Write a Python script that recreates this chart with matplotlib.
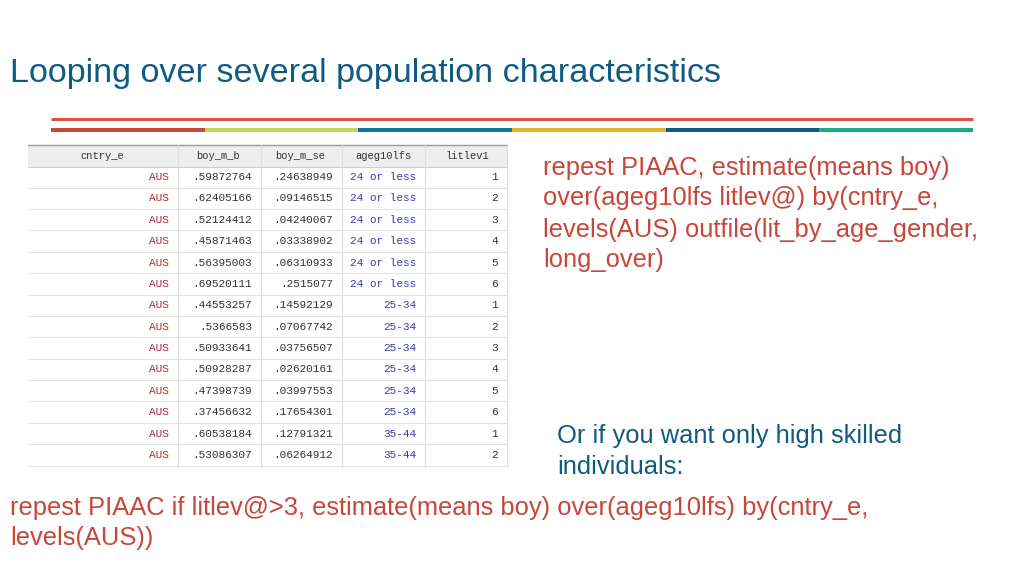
import matplotlib.pyplot as plt
from matplotlib.patches import Rectangle

# Slide content
title = "Looping over several population characteristics"
cmd_text = ["repest PIAAC, estimate(means boy)",
            "over(ageg10lfs litlev@) by(cntry_e,",
            "levels(AUS) outfile(lit_by_age_gender,",
            "long_over)"]
note_text = ["Or if you want only high skilled", "individuals:"]
bottom_text = ["repest PIAAC if litlev@>3, estimate(means boy) over(ageg10lfs) by(cntry_e,",
               "levels(AUS))"]

# Table data (Stata browser)
headers = ["cntry_e", "boy_m_b", "boy_m_se", "ageg10lfs", "litlev1"]
cntry = ["AUS"] * 14
boy_m_b = [".59872764", ".62405166", ".52124412", ".45871463", ".56395003", ".69520111",
           ".44553257", ".5366583", ".50933641", ".50928287", ".47398739", ".37456632",
           ".60538184", ".53086307"]
boy_m_se = [".24638949", ".09146515", ".04240067", ".03338902", ".06310933", ".2515077",
            ".14592129", ".07067742", ".03756507", ".02620161", ".03997553", ".17654301",
            ".12791321", ".06264912"]
ageg = ["24 or less"] * 6 + ["25-34"] * 6 + ["35-44"] * 2
litlev = [1, 2, 3, 4, 5, 6, 1, 2, 3, 4, 5, 6, 1, 2]

stripe_colors = ["#c9473a", "#c5d65a", "#0e78a0", "#e0b72f", "#0d5a83", "#1aab85"]

fig = plt.figure(figsize=(10.24, 5.76), dpi=100)
ax = fig.add_axes([0, 0, 1, 1])
ax.set_xlim(0, 1024)
ax.set_ylim(576, 0)
ax.axis("off")

sans = "Liberation Sans"
mono = "Liberation Mono"
blue = "#0f5b82"
red = "#c8463a"

ax.text(10, 73.5, title, fontsize=24.6, color=blue, family=sans, va="center", ha="left")

# decorative lines
ax.plot([51, 973], [118.5, 118.5], color="#d9534a", lw=2.2, solid_capstyle="butt")
seg = (973 - 51) / len(stripe_colors)
for i, c in enumerate(stripe_colors):
    ax.add_patch(Rectangle((51 + i * seg, 128), seg, 4, color=c, lw=0))

# table
col_edges = [28, 178, 261, 342, 425, 507]
head_top, head_bot = 145, 166.5
row_h = 21.38
row0 = 177
n = len(cntry)
tab_bot = row0 + (n - 1) * row_h + row_h / 2 + 1

ax.add_patch(Rectangle((col_edges[0], head_top), col_edges[-1] - col_edges[0],
                       head_bot - head_top, color="#eeeeee", lw=0))
ax.plot([col_edges[0], col_edges[-1]], [head_top, head_top], color="#9a9a9a", lw=1)
ax.plot([col_edges[0], col_edges[-1]], [head_bot, head_bot], color="#cfcfcf", lw=0.8)
for x in col_edges[1:]:
    ax.plot([x, x], [head_top, tab_bot], color="#dddddd", lw=0.8)
for i in range(n):
    y = row0 + i * row_h + row_h / 2
    ax.plot([col_edges[0], col_edges[-1]], [y, y], color="#e3e3e3", lw=0.8)

head_cx = [102, 218, 300, 383, 467]
for h, cx in zip(headers, head_cx):
    ax.text(cx, 156, h, fontsize=7.5, family=mono, color="#333333", ha="center", va="center")

right_x = [169, 252, 333, 416, 498]
for i in range(n):
    y = row0 + i * row_h
    ax.text(right_x[0], y, cntry[i], fontsize=8, family=mono, color="#b52a2a", ha="right", va="center")
    ax.text(right_x[1], y, boy_m_b[i], fontsize=8, family=mono, color="#333333", ha="right", va="center")
    ax.text(right_x[2], y, boy_m_se[i], fontsize=8, family=mono, color="#333333", ha="right", va="center")
    ax.text(right_x[3], y, ageg[i], fontsize=8, family=mono, color="#3a3ab0", ha="right", va="center")
    ax.text(right_x[4], y, str(litlev[i]), fontsize=8, family=mono, color="#333333", ha="right", va="center")

# right side command text
for i, line in enumerate(cmd_text):
    ax.text(543, 167.5 + i * 31, line, fontsize=18.4, family=sans, color=red, ha="left", va="center")

for i, line in enumerate(note_text):
    ax.text(557, 436.5 + i * 30, line, fontsize=18.4, family=sans, color=blue, ha="left", va="center")

for i, line in enumerate(bottom_text):
    ax.text(10, 508.5 + i * 30, line, fontsize=18.4, family=sans, color=red, ha="left", va="center")

fig.savefig("out.png", dpi=100)
